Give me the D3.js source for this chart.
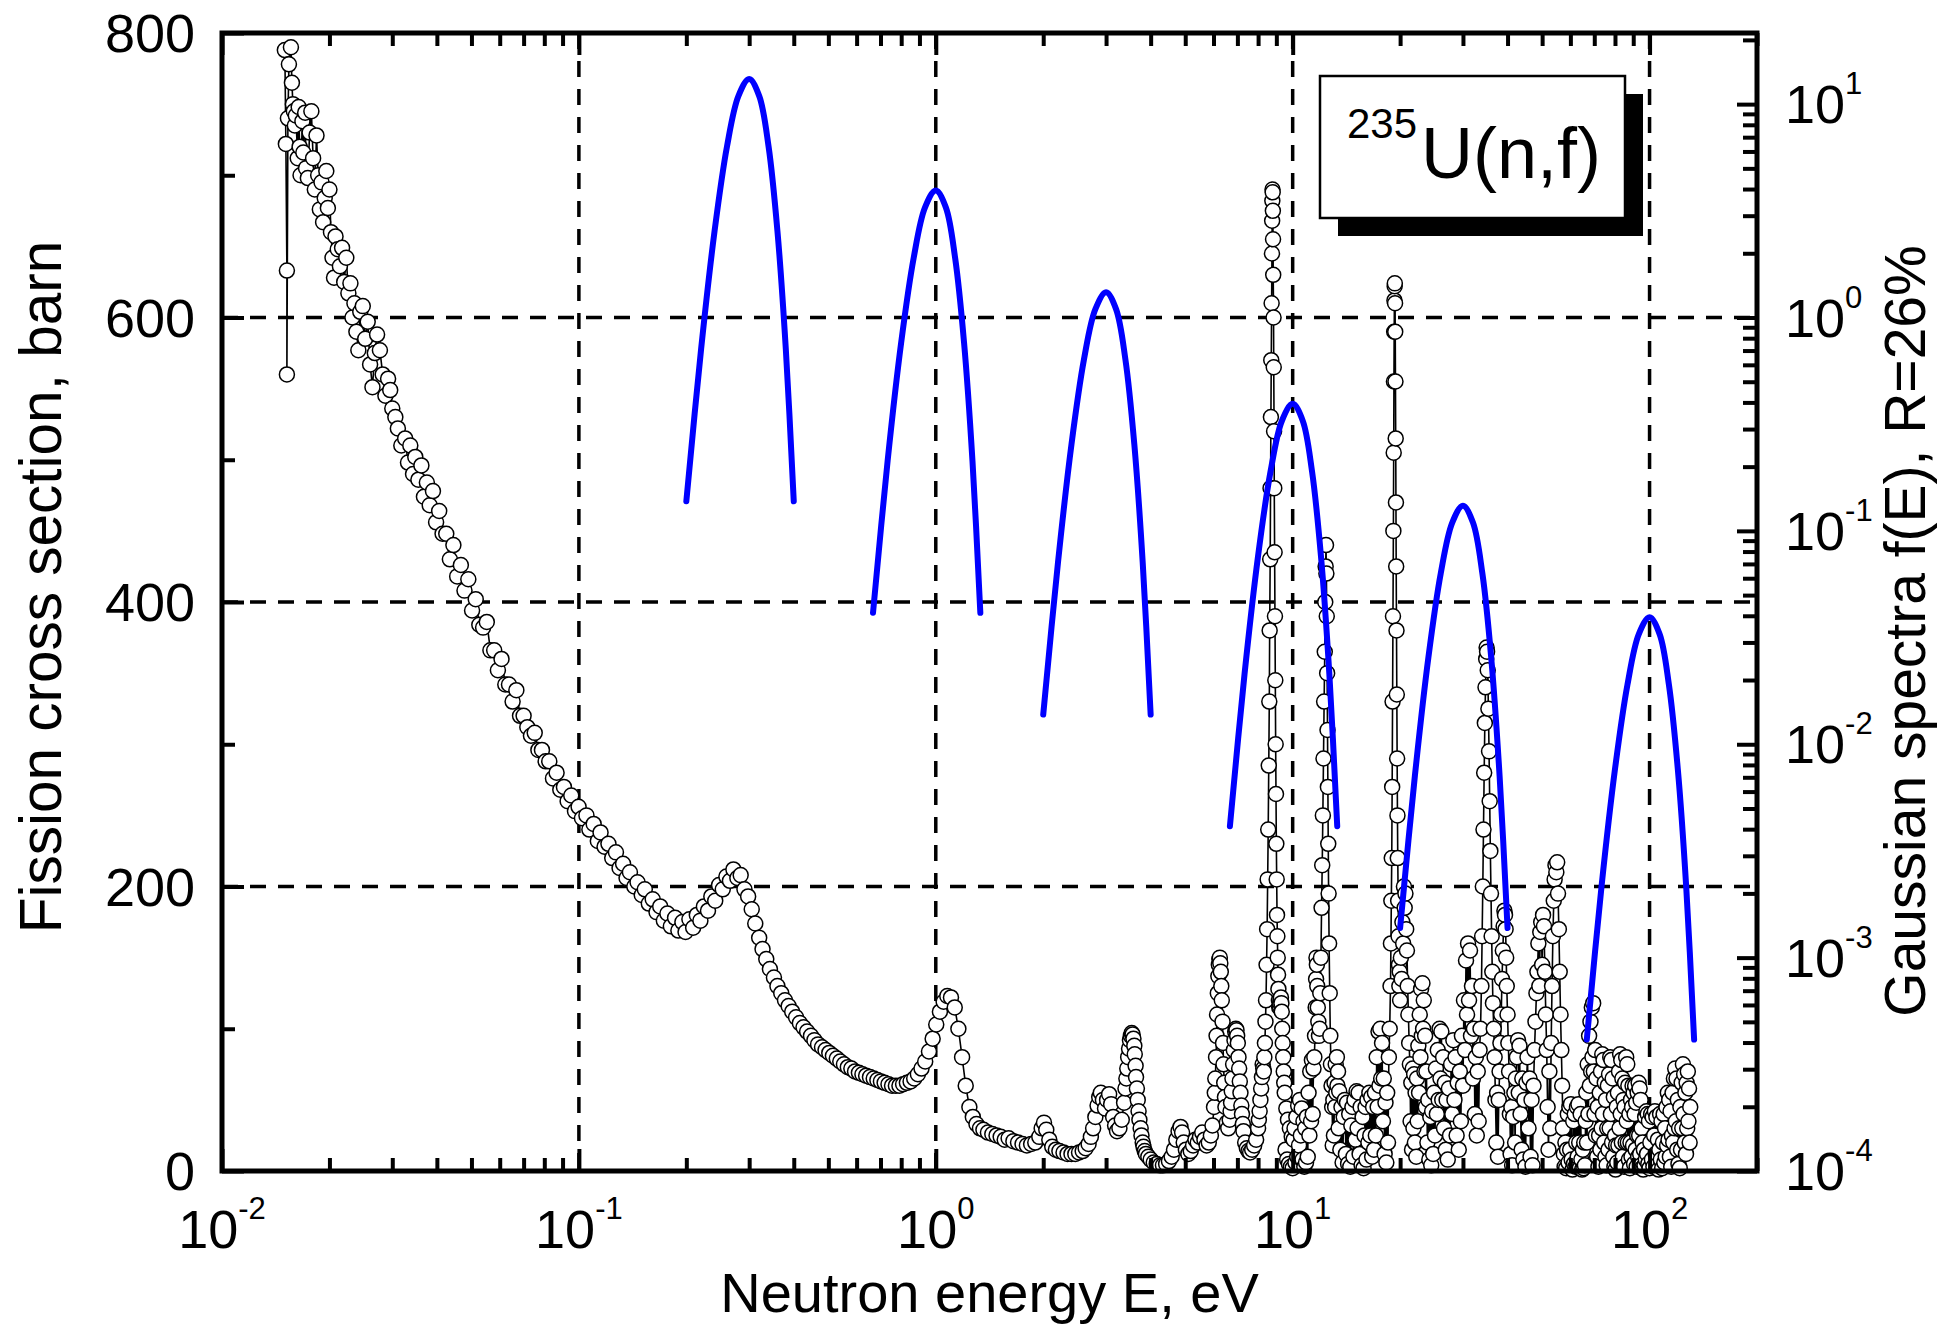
<!DOCTYPE html>
<html>
<head>
<meta charset="utf-8">
<script src="https://cdn.jsdelivr.net/npm/d3@7"></script>
<style>
  body { margin: 0; background: #fff; }
  text { font-family: "Liberation Sans", Arial, sans-serif; fill: #000; }
</style>
</head>
<body>
<div id="chart"></div>
<script>
// 235U(n,f) cross section, [energy eV, sigma barn]
var thermalData = [
  [0.0150,788],[0.0151,722],[0.0152,633],[0.0152,560],[0.0153,740],[0.0154,778],[0.0156,790],[0.0157,765],
  [0.0158,750],[0.0159,745],[0.0160,735],[0.0161,742],[0.0163,712],[0.0164,748],[0.0165,720],[0.0166,700],
  [0.0168,738],[0.0169,716],[0.0171,744],[0.0172,705],[0.0174,698],[0.0176,730],[0.0178,745],[0.0180,712],
  [0.0182,690],[0.0184,728],[0.0186,700],[0.0188,676],[0.0190,695],[0.0192,667],[0.0194,684],[0.0196,703],
  [0.0198,677],[0.0200,690],[0.0202,660],[0.0204,642],[0.0206,628],[0.0208,657],[0.0211,648],[0.0214,636],
  [0.0217,649],[0.0220,625],[0.0223,642],[0.0226,617],[0.0229,624],[0.0232,600],[0.0235,610],[0.0238,590],
  [0.0241,577],[0.0244,604],[0.0248,608],[0.0252,585],[0.0256,597],[0.0260,567],[0.0264,551],[0.0268,575],
  [0.0272,588],[0.0277,577],[0.0282,560],[0.0287,545],[0.0292,557],[0.0296,549],[0.0300,536],[0.0306,530],
  [0.0311,522],[0.0318,510],[0.0326,515],[0.0332,498],[0.0337,510],[0.0343,490],[0.0348,502],[0.0355,486],
  [0.0362,496],[0.0368,474],[0.0375,484],[0.0382,468],[0.0390,478],[0.0398,456],[0.0406,464],[0.0415,448],
  [0.0425,448],[0.0435,430],[0.0445,440],[0.0456,418],[0.0467,426],[0.0478,408],[0.0490,416],[0.0502,394],
  [0.0514,402],[0.0526,384],[0.0539,382],[0.0552,386],[0.0565,366],[0.0579,366],[0.0593,352],[0.0607,360],
  [0.0622,342],[0.0637,342],[0.0652,330],[0.0668,338],[0.0684,320],[0.0700,320],[0.0717,312],[0.0734,306],
  [0.0752,308],[0.0770,296],[0.0788,296],[0.0807,288],[0.0826,288],[0.0846,276],[0.0866,280],[0.0887,268],
  [0.0908,270],[0.0930,260],[0.0952,264],[0.0975,253],[0.0998,256],[0.102,248],[0.105,250],[0.107,240],
  [0.110,244],[0.113,232],[0.115,238],[0.118,228],[0.121,230],[0.124,220],[0.127,224],[0.130,213],
  [0.133,216],[0.136,206],[0.139,210],[0.143,200],[0.146,203],[0.150,194],[0.153,198],[0.157,188],
  [0.161,191],[0.165,182],[0.169,186],[0.173,176],[0.177,181],[0.181,172],[0.186,178],[0.190,169],
  [0.195,175],[0.199,168],[0.204,177],[0.209,171],[0.214,180],[0.219,176],[0.224,186],[0.230,183],
  [0.235,193],[0.241,190],[0.247,201],[0.253,198],[0.259,207],[0.265,204],[0.271,212],[0.278,206],
  [0.284,208],[0.291,198],[0.298,193],[0.305,184],[0.312,174],[0.320,164],[0.327,156],[0.335,149],
  [0.343,142],[0.352,136],[0.360,130],[0.369,125],[0.378,120],[0.387,116],[0.396,112],[0.406,108],
  [0.416,104],[0.426,101],[0.436,98],[0.447,95],[0.457,92],[0.468,89],[0.480,87],[0.491,85],
  [0.503,83],[0.515,81],[0.528,79],[0.540,77],[0.553,75],[0.567,73],[0.580,72],[0.594,70],
  [0.609,69],[0.623,68],[0.638,67],[0.654,66],[0.670,65],[0.686,64],[0.702,63],[0.719,62],
  [0.737,61],[0.754,60],[0.773,60],[0.791,60],[0.810,61],[0.830,62],[0.850,63],[0.870,65],
  [0.891,68],[0.912,72],[0.934,77],[0.957,84],[0.980,93],[1.003,103],[1.027,112],[1.052,119],
  [1.077,123],[1.103,122],[1.130,115],[1.157,100],[1.185,80],[1.213,60]
];

var resonanceData = [
  [1.242,45],[1.27,38],[1.30,33],[1.33,30],[1.36,29],[1.40,27],[1.44,26],[1.48,25],[1.52,24],[1.56,22],
  [1.60,23],[1.65,21],[1.70,20],[1.75,19],[1.80,18],[1.85,19],[1.90,20],[1.95,24],[1.98,30],[2.01,34],
  [2.04,29],[2.08,22],[2.12,17],[2.17,15],[2.22,14],[2.28,13],[2.34,12],[2.40,12],[2.46,12],[2.52,13],
  [2.58,14],[2.63,16],[2.68,19],[2.72,24],[2.76,30],[2.80,38],[2.84,46],[2.87,52],[2.90,55],[2.94,50],
  [2.98,44],[3.02,50],[3.06,54],[3.10,47],[3.14,38],[3.18,32],[3.22,28],[3.27,30],[3.32,36],[3.37,48],
  [3.40,58],[3.42,65],[3.44,72],[3.46,80],[3.48,86],[3.50,92],[3.52,95],[3.54,97],[3.56,96],[3.58,93],
  [3.60,88],[3.61,82],[3.63,74],[3.64,66],[3.66,58],[3.68,50],[3.70,42],[3.72,36],[3.75,30],[3.77,25],
  [3.80,20],[3.82,17],[3.85,14],[3.88,12],[3.94,10],[4.00,8],[4.08,6],[4.16,5],[4.25,4],[4.33,4],
  [4.42,5],[4.50,7],[4.58,10],[4.65,15],[4.72,22],[4.79,28],[4.85,31],[4.90,27],[4.95,20],[5.02,15],
  [5.10,12],[5.18,14],[5.26,18],[5.34,22],[5.42,20],[5.50,24],[5.58,27],[5.66,22],[5.74,18],[5.82,20],
  [5.90,25],[5.96,32],[6.02,45],[6.05,55],[6.07,65],[6.10,80],[6.12,95],[6.14,110],[6.17,125],[6.19,137],
  [6.21,145],[6.23,149],[6.25,150],[6.27,146],[6.29,140],[6.31,130],[6.33,120],[6.36,105],[6.38,90],[6.40,75],
  [6.43,62],[6.46,52],[6.48,45],[6.54,34],[6.60,30],[6.66,36],[6.70,42],[6.72,48],[6.75,56],[6.78,65],
  [6.81,75],[6.84,85],[6.87,92],[6.90,98],[6.93,100],[6.96,99],[6.99,95],[7.02,90],[7.05,80],[7.08,72],
  [7.11,63],[7.14,55],[7.18,46],[7.21,40],[7.25,33],[7.28,28],[7.36,20],[7.44,16],[7.52,14],[7.60,13],
  [7.70,15],[7.80,18],[7.90,22],[8.00,30],[8.04,36],[8.08,42],[8.12,50],[8.16,58],[8.20,66],[8.24,75],
  [8.27,72],[8.30,70],[8.33,80],[8.36,90],[8.39,105],[8.42,120],[8.45,145],[8.48,170],[8.51,205],[8.54,240],
  [8.57,285],[8.60,330],[8.62,380],[8.65,430],[8.67,480],[8.69,530],[8.71,570],[8.73,610],[8.75,645],[8.76,668],
  [8.77,682],[8.78,690],[8.79,688],[8.80,675],[8.81,655],[8.82,630],[8.84,600],[8.85,565],[8.87,520],[8.88,480],
  [8.90,435],[8.92,390],[8.94,345],[8.96,300],[8.98,265],[9.00,230],[9.02,205],[9.04,180],[9.06,165],[9.08,150],
  [9.10,138],[9.12,128],[9.15,120],[9.17,115],[9.20,116],[9.22,118],[9.25,121],[9.27,122],[9.30,118],[9.32,112],
  [9.35,100],[9.38,90],[9.41,80],[9.44,70],[9.47,62],[9.50,55],[9.55,15],[9.60,44],[9.65,8],[9.70,36],
  [9.76,5],[9.82,30],[9.88,3],[9.94,24],[10.0,2],[10.06,22],[10.12,30],[10.18,6],[10.24,38],[10.3,10],
  [10.36,46],[10.42,18],[10.48,50],[10.54,25],[10.6,44],[10.66,8],[10.72,35],[10.78,3],[10.84,30],[10.9,6],
  [10.96,38],[11.02,10],[11.08,55],[11.14,25],[11.2,70],[11.26,35],[11.32,78],[11.38,40],[11.44,72],[11.5,80],
  [11.55,95],[11.6,115],[11.63,135],[11.66,150],[11.69,145],[11.72,130],[11.76,115],[11.8,105],[11.85,95],[11.9,100],
  [11.95,125],[12.0,150],[12.05,185],[12.1,215],[12.15,250],[12.2,290],[12.25,330],[12.3,365],[12.34,400],[12.37,425],
  [12.4,440],[12.43,420],[12.46,390],[12.49,350],[12.52,310],[12.55,270],[12.58,230],[12.61,195],[12.65,160],[12.7,125],
  [12.75,95],[12.8,75],[12.85,60],[12.9,45],[12.95,18],[13.0,50],[13.05,25],[13.1,62],[13.15,45],[13.2,75],
  [13.25,55],[13.3,80],[13.35,60],[13.4,70],[13.45,30],[13.5,56],[13.6,15],[13.7,45],[13.8,6],[13.9,38],
  [14.0,50],[14.1,12],[14.2,48],[14.3,5],[14.4,40],[14.5,3],[14.6,32],[14.7,45],[14.8,10],[14.9,50],
  [15.0,22],[15.1,56],[15.2,30],[15.3,55],[15.4,12],[15.5,45],[15.6,4],[15.7,38],[15.8,2],[15.9,25],
  [16.0,45],[16.1,8],[16.2,50],[16.3,20],[16.4,55],[16.5,25],[16.6,52],[16.7,10],[16.8,45],[16.9,15],
  [17.0,55],[17.1,25],[17.2,80],[17.3,45],[17.4,98],[17.5,60],[17.6,100],[17.7,65],[17.8,90],[17.9,35],
  [18.0,65],[18.1,12],[18.2,48],[18.3,6],[18.4,55],[18.5,20],[18.6,80],[18.7,100],[18.8,130],[18.85,160],
  [18.9,190],[18.95,220],[19.0,270],[19.05,330],[19.1,390],[19.15,450],[19.19,505],[19.22,555],[19.25,590],[19.28,612],
  [19.31,622],[19.33,624],[19.36,610],[19.38,590],[19.41,555],[19.44,515],[19.47,470],[19.5,425],[19.54,380],[19.58,335],
  [19.62,290],[19.66,250],[19.7,220],[19.75,190],[19.8,165],[19.85,145],[19.9,130],[19.95,140],[20.0,120],[20.1,150],
  [20.2,135],[20.3,175],[20.4,160],[20.5,200],[20.6,185],[20.7,195],[20.8,170],[20.9,155],[21.0,130],[21.1,110],
  [21.2,90],[21.3,75],[21.4,35],[21.5,62],[21.6,15],[21.7,72],[21.8,30],[21.9,68],[22.0,20],[22.1,55],
  [22.2,10],[22.3,65],[22.4,35],[22.5,88],[22.6,55],[22.7,110],[22.8,80],[22.9,128],[23.0,95],[23.1,132],
  [23.2,100],[23.3,120],[23.4,70],[23.5,95],[23.6,45],[23.7,70],[23.85,20],[24.0,50],[24.15,8],[24.3,38],
  [24.45,4],[24.6,42],[24.75,12],[24.9,55],[25.05,25],[25.2,72],[25.35,40],[25.5,85],[25.65,50],[25.8,100],
  [25.95,65],[26.1,98],[26.25,50],[26.4,80],[26.55,30],[26.7,62],[26.85,15],[27.0,50],[27.2,8],[27.4,58],
  [27.6,25],[27.8,75],[28.0,40],[28.2,92],[28.4,50],[28.6,80],[28.8,25],[29.0,62],[29.2,15],[29.4,70],
  [29.6,35],[29.8,95],[30.0,60],[30.2,120],[30.4,85],[30.6,148],[30.8,110],[31.0,160],[31.2,120],[31.4,155],
  [31.6,95],[31.8,130],[32.0,65],[32.2,100],[32.4,40],[32.6,80],[32.8,25],[33.0,70],[33.2,35],[33.4,85],
  [33.6,100],[33.8,130],[33.95,165],[34.1,200],[34.25,240],[34.4,280],[34.55,315],[34.7,340],[34.85,360],[34.95,368],
  [35.05,365],[35.2,352],[35.35,325],[35.5,295],[35.65,260],[35.8,225],[35.95,195],[36.1,165],[36.25,140],[36.4,118],
  [36.6,100],[36.8,80],[37.0,50],[37.2,20],[37.4,55],[37.6,10],[37.8,50],[38.0,70],[38.2,90],[38.4,110],
  [38.6,135],[38.8,155],[39.0,172],[39.2,183],[39.35,180],[39.5,170],[39.65,150],[39.8,130],[40.0,110],[40.2,90],
  [40.4,70],[40.6,40],[40.8,12],[41.0,45],[41.2,4],[41.5,38],[41.8,55],[42.0,20],[42.2,65],[42.5,80],
  [42.8,92],[43.0,55],[43.2,88],[43.5,40],[43.8,15],[44.0,65],[44.3,8],[44.6,50],[44.9,3],[45.2,62],
  [45.5,80],[45.8,30],[46.1,65],[46.4,10],[46.7,50],[47.0,4],[47.3,60],[47.6,85],[47.9,105],[48.2,125],
  [48.5,140],[48.8,160],[49.1,130],[49.4,168],[49.7,175],[50.0,145],[50.3,180],[50.6,172],[50.9,140],[51.2,110],
  [51.5,85],[51.8,45],[52.1,15],[52.4,70],[52.7,30],[53.0,90],[53.3,130],[53.6,165],[53.9,190],[54.2,205],
  [54.5,215],[54.8,210],[55.1,217],[55.4,195],[55.7,170],[56.0,140],[56.3,110],[56.6,85],[56.9,60],[57.2,30],
  [57.5,12],[57.8,3],[58.1,20],[58.4,2],[58.7,15],[59.0,40],[59.3,6],[59.6,45],[59.9,15],[60.2,47],
  [60.5,8],[60.8,1],[61.1,35],[61.4,5],[61.7,40],[62.0,3],[62.3,20],[62.6,45],[62.9,10],[63.2,47],
  [63.5,20],[63.8,2],[64.1,40],[64.4,8],[64.7,1],[65.0,15],[65.3,2],[65.6,20],[65.9,4],[66.2,35],
  [66.5,55],[66.8,20],[67.1,75],[67.4,40],[67.7,95],[68.0,60],[68.3,105],[68.6,70],[68.9,115],[69.2,80],
  [69.5,118],[69.8,70],[70.1,40],[70.4,85],[70.7,25],[71.0,65],[71.3,10],[71.6,45],[71.9,3],[72.2,25],
  [72.5,55],[72.8,15],[73.1,70],[73.4,30],[73.7,82],[74.0,40],[74.3,78],[74.6,20],[74.9,62],[75.2,10],
  [75.5,50],[75.8,4],[76.1,30],[76.4,60],[76.7,15],[77.0,68],[77.3,30],[77.6,80],[77.9,40],[78.2,78],
  [78.5,20],[78.8,65],[79.1,10],[79.4,52],[79.7,3],[80.0,25],[80.3,1],[80.6,18],[80.9,45],[81.2,6],
  [81.5,55],[81.8,18],[82.1,70],[82.4,30],[82.7,82],[83.0,40],[83.3,78],[83.6,20],[83.9,65],[84.2,10],
  [84.5,50],[84.8,3],[85.1,45],[85.4,62],[85.7,20],[86.0,80],[86.3,35],[86.6,75],[86.9,20],[87.2,60],
  [87.5,8],[87.8,40],[88.1,2],[88.4,20],[88.7,50],[89.0,10],[89.3,45],[89.6,60],[89.9,18],[90.2,55],
  [90.5,5],[90.8,40],[91.1,60],[91.4,15],[91.7,48],[92.0,3],[92.3,25],[92.6,55],[92.9,10],[93.2,62],
  [93.5,25],[93.8,58],[94.1,12],[94.4,50],[94.7,4],[95.0,30],[95.3,2],[95.6,20],[96.0,1],[96.4,15],
  [96.8,4],[97.2,38],[97.6,8],[98.0,42],[98.4,12],[98.8,40],[99.2,5],[99.6,35],[100,2],[100.5,20],
  [101,40],[101.5,8],[102,38],[102.5,3],[103,25],[103.5,42],[104,12],[104.5,38],[105,4],[105.5,22],
  [106,1],[106.5,15],[107,40],[107.5,8],[108,35],[108.5,2],[109,20],[109.5,40],[110,6],[110.5,30],
  [111,10],[111.5,45],[112,18],[112.5,55],[113,22],[113.5,50],[114,10],[114.5,42],[115,3],[115.5,25],
  [116,55],[116.5,20],[117,65],[117.5,30],[118,72],[118.5,35],[119,65],[119.5,15],[120,50],[120.5,5],
  [121,30],[121.5,2],[122,45],[122.5,15],[123,62],[123.5,30],[124,75],[124.5,40],[125,68],[125.5,20],
  [126,55],[126.5,12],[127,62],[127.5,30],[128,70],[128.5,35],[129,58],[129.5,20],[130,45]
];

// gaussian spectra (right axis), energies and f(E)
var gaussE = [
  [0.2,0.22,0.24,0.26,0.28,0.3,0.32,0.34,0.36,0.38,0.4],
  [0.667,0.733,0.8,0.867,0.933,1,1.067,1.133,1.2,1.267,1.333],
  [2,2.2,2.4,2.6,2.8,3,3.2,3.4,3.6,3.8,4],
  [6.67,7.33,8,8.67,9.33,10,10.67,11.33,12,12.67,13.33],
  [20,22,24,26,28,30,32,34,36,38,40],
  [66.7,73.3,80,86.7,93.3,100,106.7,113.3,120,126.7,133.3]
];
var gaussF = [
  [0.1377,0.711,2.545,6.33,10.93,13.12,10.93,6.33,2.545,0.711,0.1377],
  [0.0413,0.2131,0.7637,1.900,3.282,3.938,3.282,1.900,0.7637,0.2131,0.0413],
  [0.01377,0.0711,0.2545,0.633,1.094,1.313,1.094,0.633,0.2545,0.0711,0.01377],
  [0.00413,0.02131,0.07637,0.1900,0.3282,0.3938,0.3282,0.1900,0.07637,0.02131,0.00413],
  [0.001377,0.00711,0.02545,0.0633,0.1094,0.1313,0.1094,0.0633,0.02545,0.00711,0.001377],
  [0.000413,0.002131,0.007637,0.0190,0.03282,0.03938,0.03282,0.0190,0.007637,0.002131,0.000413]
];

var leftTicks = [0, 200, 400, 600, 800];
var leftMinor = [100, 300, 500, 700];
var bottomExp = [-2, -1, 0, 1, 2];
var rightExp = [-4, -3, -2, -1, 0, 1];
var gridX = [0.1, 1, 10, 100];
var gridY = [200, 400, 600];

var margin = {top: 33, left: 222},
    width = 1535,
    height = 1138,
    x0 = margin.left, x1 = margin.left + width,
    y0 = margin.top, y1 = margin.top + height;

var svg = d3.select("#chart").append("svg")
    .attr("width", 1953)
    .attr("height", 1327);

svg.append("rect").attr("width", 1953).attr("height", 1327).attr("fill", "#fff");

var x = d3.scaleLog().domain([0.01, 200]).range([x0, x1]);
var y = d3.scaleLinear().domain([0, 800]).range([y1, y0]);
var yR = d3.scaleLog().domain([1e-4, Math.pow(10, 4 / 3)]).range([y1, y0]);

// dashed grid
svg.append("g").selectAll("line").data(gridY).enter().append("line")
    .attr("x1", x0).attr("x2", x1)
    .attr("y1", d => y(d)).attr("y2", d => y(d))
    .attr("stroke", "#000").attr("stroke-width", 3.5).attr("stroke-dasharray", "16,12");
svg.append("g").selectAll("line").data(gridX).enter().append("line")
    .attr("x1", d => x(d)).attr("x2", d => x(d))
    .attr("y1", y0).attr("y2", y1)
    .attr("stroke", "#000").attr("stroke-width", 3.5).attr("stroke-dasharray", "16,12");

// cross section: line + open circles
var allData = thermalData.concat(resonanceData);
var line = d3.line().x(d => x(d[0])).y(d => y(d[1]));
svg.append("path").datum(allData)
    .attr("d", line)
    .attr("fill", "none").attr("stroke", "#000").attr("stroke-width", 1.6);
svg.append("g").selectAll("circle").data(allData).enter().append("circle")
    .attr("cx", d => x(d[0])).attr("cy", d => y(d[1])).attr("r", 7.5)
    .attr("fill", "#fff").attr("stroke", "#000").attr("stroke-width", 1.5);

// gaussian spectra
var gLine = d3.line().x(d => x(d[0])).y(d => yR(d[1])).curve(d3.curveCatmullRom.alpha(0.5));
gaussE.forEach(function (es, i) {
    var pts = es.map((e, j) => [e, gaussF[i][j]]);
    svg.append("path").datum(pts)
        .attr("d", gLine)
        .attr("fill", "none").attr("stroke", "#0000ff")
        .attr("stroke-width", 6).attr("stroke-linecap", "round").attr("stroke-linejoin", "round");
});

// ticks
function minorLog(lo, hi, max) {
    var v = [];
    for (var p = lo; p <= hi; p++) {
        for (var k = 2; k <= 9; k++) {
            var t = k * Math.pow(10, p);
            if (t <= max) v.push(t);
        }
    }
    return v;
}
function tickGroup(axisFn, scale, values, size, tr) {
    svg.append("g").attr("transform", tr)
        .call(axisFn(scale).tickValues(values).tickSize(size).tickFormat(""))
        .call(g => g.select(".domain").remove())
        .selectAll("line").attr("stroke", "#000").attr("stroke-width", 4);
}
var xMajor = bottomExp.map(e => Math.pow(10, e));
var xMinor = minorLog(-2, 2, 200);
tickGroup(d3.axisBottom, x, xMajor, -22, "translate(0," + y1 + ")");
tickGroup(d3.axisBottom, x, xMinor, -13, "translate(0," + y1 + ")");
tickGroup(d3.axisTop, x, xMajor, -22, "translate(0," + y0 + ")");
tickGroup(d3.axisTop, x, xMinor, -13, "translate(0," + y0 + ")");
tickGroup(d3.axisLeft, y, leftTicks, -22, "translate(" + x0 + ",0)");
tickGroup(d3.axisLeft, y, leftMinor, -13, "translate(" + x0 + ",0)");
tickGroup(d3.axisRight, yR, rightExp.map(e => Math.pow(10, e)), -20, "translate(" + x1 + ",0)");
tickGroup(d3.axisRight, yR, minorLog(-4, 1, 21), -14, "translate(" + x1 + ",0)");

// frame
svg.append("rect")
    .attr("x", x0).attr("y", y0).attr("width", width).attr("height", height)
    .attr("fill", "none").attr("stroke", "#000").attr("stroke-width", 5);

// tick labels
svg.append("g").selectAll("text").data(leftTicks).enter().append("text")
    .attr("x", 195).attr("y", d => y(d) + 19)
    .attr("text-anchor", "end").attr("font-size", 54)
    .text(d => d);

function powLabel(sel) {
    sel.text("10");
    sel.append("tspan").attr("font-size", 31).attr("dy", -29)
        .text(d => d < 0 ? "-" + (-d) : d);
}
svg.append("g").selectAll("text").data(bottomExp).enter().append("text")
    .attr("x", d => x(Math.pow(10, d))).attr("y", 1248)
    .attr("text-anchor", "middle").attr("font-size", 54)
    .call(powLabel);
svg.append("g").selectAll("text").data(rightExp).enter().append("text")
    .attr("x", 1785).attr("y", d => yR(Math.pow(10, d)) + 19)
    .attr("text-anchor", "start").attr("font-size", 54)
    .call(powLabel);

// axis titles
svg.append("text")
    .attr("x", (x0 + x1) / 2).attr("y", 1312)
    .attr("text-anchor", "middle").attr("font-size", 56)
    .text("Neutron energy E, eV");
svg.append("text")
    .attr("transform", "translate(61,587) rotate(-90)")
    .attr("text-anchor", "middle").attr("font-size", 58.5)
    .text("Fission cross section, barn");
svg.append("text")
    .attr("transform", "translate(1925,631) rotate(-90)")
    .attr("text-anchor", "middle").attr("font-size", 57)
    .text("Gaussian spectra f(E), R=26%");

// label box with drop shadow
svg.append("rect").attr("x", 1338).attr("y", 94).attr("width", 305).attr("height", 142).attr("fill", "#000");
svg.append("rect").attr("x", 1320).attr("y", 76).attr("width", 305).attr("height", 142)
    .attr("fill", "#fff").attr("stroke", "#000").attr("stroke-width", 2.5);
svg.append("text").attr("x", 1347).attr("y", 138).attr("font-size", 42).text("235");
svg.append("text").attr("x", 1421).attr("y", 178).attr("font-size", 72).text("U(n,f)");
</script>
</body>
</html>
